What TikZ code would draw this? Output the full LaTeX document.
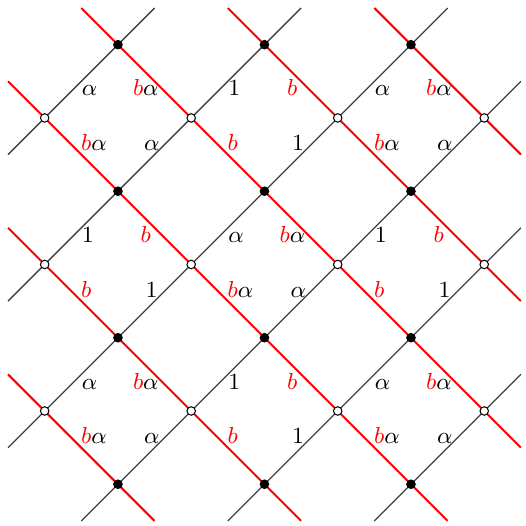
\documentclass[tikz,border=0pt]{standalone}
\usepackage{xcolor}
\begin{document}
\begin{tikzpicture}[
  blackline/.style={draw=black!75, line width=0.5pt},
  redline/.style={draw=red, line width=0.8pt},
  bdot/.style={circle, fill=black, draw=black, line width=0.4pt, inner sep=0pt, minimum size=3.3pt},
  wdot/.style={circle, fill=white, draw=black, line width=0.4pt, inner sep=0pt, minimum size=3.3pt},
  lab/.style={inner sep=0pt, font=\small}
]
\useasboundingbox (-0.11,-0.07) rectangle (7.07,7.11);
% black lines (slope +1): y - x = c
\foreach \c in {1,3,5} {
  \pgfmathtruncatemacro\e{7-\c}
  \coordinate (bku-s\c) at (0,\c);
  \coordinate (bku-e\c) at (\e,7);
  \draw[blackline] (bku-s\c) -- (bku-e\c);
  \coordinate (bkd-s\c) at (\c,0);
  \coordinate (bkd-e\c) at (7,\e);
  \draw[blackline] (bkd-s\c) -- (bkd-e\c);
}
% red lines (slope -1): x + y = d
\foreach \d in {2,4,6} {
  \coordinate (rdl-s\d) at (0,\d);
  \coordinate (rdl-e\d) at (\d,0);
  \draw[redline] (rdl-s\d) -- (rdl-e\d);
}
\foreach \d in {8,10,12} {
  \pgfmathtruncatemacro\e{\d-7}
  \coordinate (rdh-s\d) at (\e,7);
  \coordinate (rdh-e\d) at (7,\e);
  \draw[redline] (rdh-s\d) -- (rdh-e\d);
}
% dots
\foreach \i in {0,1,2} \foreach \j in {0,...,3}
  \node[bdot] (bd\i\j) at ({1.5+2*\i},{0.5+2*\j}) {};
\foreach \i in {0,...,3} \foreach \j in {0,1,2}
  \node[wdot] (wd\i\j) at ({0.5+2*\i},{1.5+2*\j}) {};
% labels
\foreach \i in {0,1,2} \foreach \j in {0,1,2} {
  \pgfmathtruncatemacro\pty{mod(\i+\j,2)}
  \ifnum\pty=0
    \def\blk{$\alpha$}\def\rd{$\textcolor{red}{b}\alpha$}
  \else
    \def\blk{$1$}\def\rd{$\textcolor{red}{b}$}
  \fi
  \node[lab, anchor=base west] (ul\i\j) at ({1.5+2*\i-0.50},{1.5+2*\j+0.30}) {\blk};
  \node[lab, anchor=base] (ur\i\j) at ({1.5+2*\i+0.38},{1.5+2*\j+0.30}) {\rd};
  \node[lab, anchor=base west] (ll\i\j) at ({1.5+2*\i-0.51},{1.5+2*\j-0.45}) {\rd};
  \node[lab, anchor=base] (lr\i\j) at ({1.5+2*\i+0.46},{1.5+2*\j-0.45}) {\blk};
}
\end{tikzpicture}
\end{document}
